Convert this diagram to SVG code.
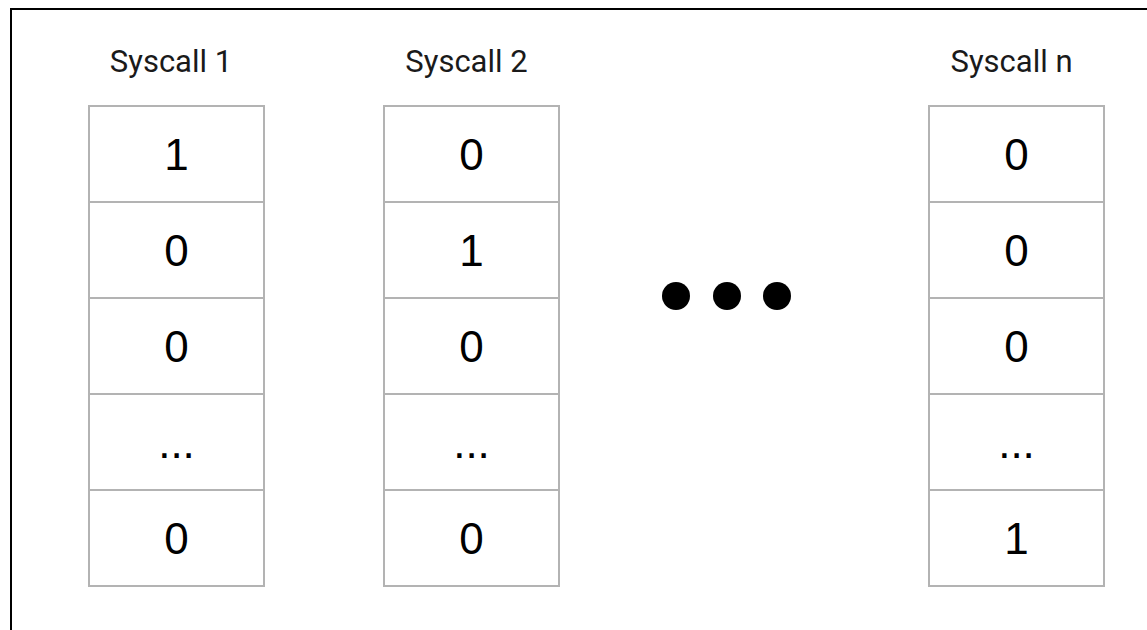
<svg xmlns="http://www.w3.org/2000/svg" width="1147" height="630" viewBox="0 0 1147 630">
<style>
.frame{fill:none;stroke:#000;stroke-width:2}
.cell{fill:#fff;stroke:#b3b3b3;stroke-width:2}
.lbl{font-family:Roboto,"Liberation Sans",sans-serif;font-size:31px;fill:#1a1a1a;text-anchor:middle}
.val{font-family:"Liberation Sans",Arial,sans-serif;font-size:44px;fill:#000;text-anchor:middle}
.dot{fill:#000}
</style>
<rect width="1147" height="630" fill="#fff"/>
<rect class="frame" x="11" y="9" width="1150" height="640"/>
<g id="syscall1">
<text class="lbl" x="171" y="72">Syscall 1</text>
<rect class="cell" x="89" y="106" width="175" height="96"/>
<rect class="cell" x="89" y="202" width="175" height="96"/>
<rect class="cell" x="89" y="298" width="175" height="96"/>
<rect class="cell" x="89" y="394" width="175" height="96"/>
<rect class="cell" x="89" y="490" width="175" height="96"/>
<text class="val" x="176.5" y="170">1</text>
<text class="val" x="176.5" y="266">0</text>
<text class="val" x="176.5" y="362">0</text>
<text class="val" x="176.5" y="458">...</text>
<text class="val" x="176.5" y="554">0</text>
</g>
<g id="syscall2">
<text class="lbl" x="466.5" y="72">Syscall 2</text>
<rect class="cell" x="384" y="106" width="175" height="96"/>
<rect class="cell" x="384" y="202" width="175" height="96"/>
<rect class="cell" x="384" y="298" width="175" height="96"/>
<rect class="cell" x="384" y="394" width="175" height="96"/>
<rect class="cell" x="384" y="490" width="175" height="96"/>
<text class="val" x="471.5" y="170">0</text>
<text class="val" x="471.5" y="266">1</text>
<text class="val" x="471.5" y="362">0</text>
<text class="val" x="471.5" y="458">...</text>
<text class="val" x="471.5" y="554">0</text>
</g>
<g id="ellipsis">
<circle class="dot" cx="676" cy="296" r="14"/>
<circle class="dot" cx="727" cy="296" r="14"/>
<circle class="dot" cx="777" cy="296" r="14"/>
</g>
<g id="syscalln">
<text class="lbl" x="1011.5" y="72">Syscall n</text>
<rect class="cell" x="929" y="106" width="175" height="96"/>
<rect class="cell" x="929" y="202" width="175" height="96"/>
<rect class="cell" x="929" y="298" width="175" height="96"/>
<rect class="cell" x="929" y="394" width="175" height="96"/>
<rect class="cell" x="929" y="490" width="175" height="96"/>
<text class="val" x="1016.5" y="170">0</text>
<text class="val" x="1016.5" y="266">0</text>
<text class="val" x="1016.5" y="362">0</text>
<text class="val" x="1016.5" y="458">...</text>
<text class="val" x="1016.5" y="554">1</text>
</g>
<g id="connectors"/>
</svg>
